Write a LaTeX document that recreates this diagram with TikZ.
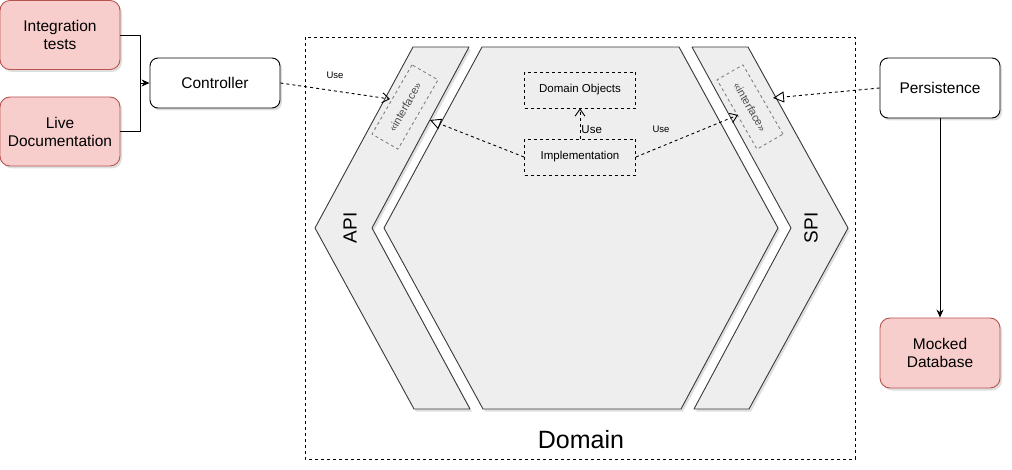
\documentclass[tikz,border=0pt]{standalone}
\usepackage{fontspec}
\setmainfont{Liberation Sans}
\usetikzlibrary{arrows.meta,positioning,shadows,calc}
\definecolor{redfill}{HTML}{F8CECC}
\definecolor{redline}{HTML}{B85450}
\definecolor{layerfill}{HTML}{EEEEEE}
\definecolor{layerline}{HTML}{36393D}
\tikzstyle{every node}=[font=\fontsize{15.5}{18}\selectfont, align=center, inner sep=1pt]
\tikzstyle{shade} = [drop shadow={shadow xshift=2pt, shadow yshift=-2.5pt, opacity=0.25}]
\tikzstyle{testbox} = [draw=redline, fill=redfill, rounded corners=10pt, minimum width=120pt, minimum height=69pt, shade]
\tikzstyle{compbox} = [draw, fill=white, rounded corners=8pt, minimum width=120pt, minimum height=60pt, shade]
\tikzstyle{layer} = [draw=layerline, fill=layerfill, shade]
\tikzstyle{classbox} = [draw, dashed, minimum width=111pt, minimum height=36pt, font=\fontsize{11.5}{13}\selectfont]
\tikzstyle{ifbox} = [draw=gray, dashed, minimum width=80pt, minimum height=30pt, font=\fontsize{11}{13}\selectfont, text=black!70]
\tikzstyle{line} = [draw, -{Stealth[length=8pt, width=7pt]}]
\tikzstyle{use} = [draw, dashed, -{Straight Barb[length=7pt, width=10pt]}]
\tikzstyle{realize} = [draw, dashed, -{Triangle[open, length=11pt, width=11pt]}]
\tikzstyle{uselabel} = [font=\fontsize{9.5}{11}\selectfont]

\begin{document}
\begin{tikzpicture}[x=1pt, y=-1pt, line join=round, line width=0.9pt]
    \useasboundingbox (0,0) rectangle (1012,470);

    % domain frame
    \draw[dashed] (305,37) rectangle (855,459);
    \node[font=\fontsize{25}{28}\selectfont] (domain) at (581,440) {Domain};

    % hexagon layers
    \path[layer] (413,47) -- (469,47) -- (372,228) -- (470,409) -- (414,409) -- (315,228) -- cycle;
    \path[layer] (482,47) -- (679,47) -- (778,228) -- (681,409) -- (483,409) -- (384,228) -- cycle;
    \path[layer] (692,47) -- (748,47) -- (848,228) -- (749,409) -- (694,409) -- (791,228) -- cycle;
    \node[rotate=90, font=\fontsize{19}{22}\selectfont] (api) at (350,228) {API};
    \node[rotate=90, font=\fontsize{19}{22}\selectfont] (spi) at (811,228) {SPI};

    \node[ifbox, rotate=60] (apiIf) at (405,107) {«interface»};
    \node[ifbox, rotate=-60] (spiIf) at (750,107) {«interface»};

    \node[classbox] (objects) at (580,90) {Domain Objects};
    \node[classbox] (impl) at (580,157) {Implementation};

    % outside components
    \node[testbox] (itest) at (60,35) {Integration\\tests};
    \node[testbox] (livedoc) at (60,131.5) {Live\\Documentation};
    \node[compbox, minimum width=130pt, minimum height=50pt] (ctrl) at (215,83) {Controller};
    \node[compbox] (persist) at (940,88) {Persistence};
    \node[testbox, minimum height=70pt] (mockdb) at (940,353) {Mocked\\Database};

    \coordinate (join) at (140,83);
    \coordinate (apiUse) at (390,99);
    \coordinate (apiReal) at (430,120);
    \coordinate (spiUse) at (738,115);
    \coordinate (spiReal) at (773,98);

    \draw (itest.east) -| (join);
    \draw (livedoc.east) -| (join);
    \draw[line] (join) -- (ctrl.west);

    \draw[use] (ctrl.east) -- (apiUse);
    \node[uselabel, fill=white] (useApi) at (335,75) {Use};
    \draw[realize] (impl.west) -- (apiReal);
    \draw[use] (impl.north) -- (objects.south) node[pos=0.3, right, font=\fontsize{11.5}{13}\selectfont] {Use};
    \draw[use] (impl.east) -- (spiUse);
    \node[uselabel] (useSpi) at (661,129) {Use};
    \draw[realize] (persist.west) -- (spiReal);
    \draw[line] (persist) -- (mockdb);
\end{tikzpicture}
\end{document}
